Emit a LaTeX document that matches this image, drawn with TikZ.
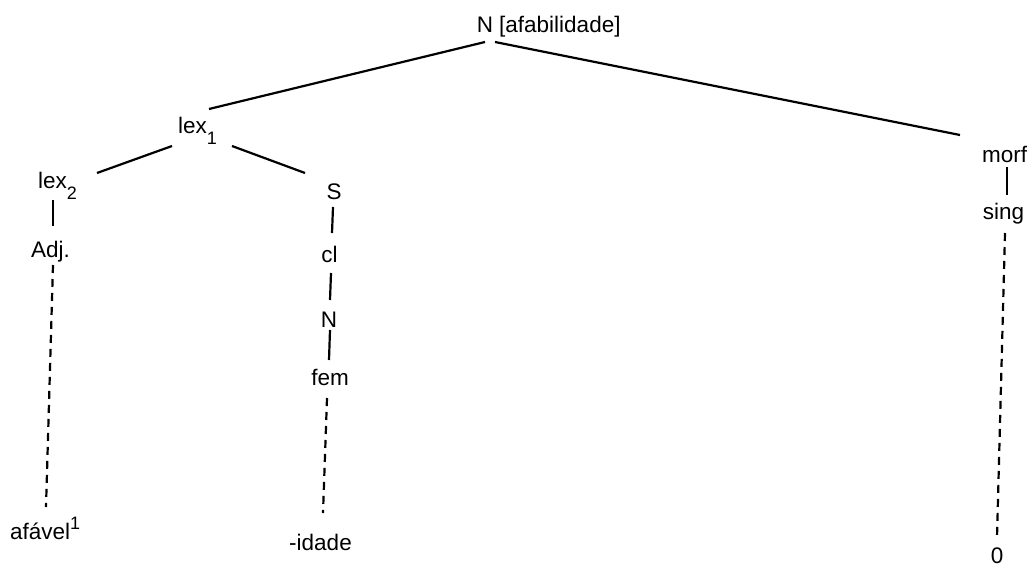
\documentclass[tikz,border=0pt]{standalone}
\usepackage{fontspec}
\setmainfont{Liberation Sans}
\newcommand{\lsub}[1]{\raisebox{-0.5em}{\fontsize{18}{18}\selectfont #1}}
\newcommand{\lsup}[1]{\raisebox{0.42em}{\fontsize{18}{18}\selectfont #1}}
\begin{document}
\begin{tikzpicture}[x=1pt,y=-1pt,
  lbl/.style={inner sep=0pt,font=\fontsize{22.5}{26}\selectfont},
  edge/.style={line width=2.2pt},
  dedge/.style={line width=2.2pt,dash pattern=on 8pt off 6pt}]
\useasboundingbox (0,0) rectangle (1035,586);
% nodes
\node[lbl,anchor=base] (root) at (485,33) {N};
\node[lbl,anchor=base west] (rootann) at (499,33) {[afabilidade]};
\node[lbl,anchor=base west] (lexone) at (178,133) {lex\lsub{1}};
\node[lbl,anchor=base west] (lextwo) at (38,188) {lex\lsub{2}};
\node[lbl,anchor=base west] (adj) at (31,257) {Adj.};
\node[lbl,anchor=base west] (afavel) at (10,539) {afável\lsup{1}};
\node[lbl,anchor=base] (S) at (334,199) {S};
\node[lbl,anchor=base] (cl) at (329.5,262) {cl};
\node[lbl,anchor=base] (Ntwo) at (329,327) {N};
\node[lbl,anchor=base] (fem) at (330,385) {fem};
\node[lbl,anchor=base] (idade) at (320.5,550) {-idade};
\node[lbl,anchor=base] (morf) at (1004.5,162) {morf};
\node[lbl,anchor=base] (sing) at (1003.5,219) {sing};
\node[lbl,anchor=base] (zero) at (997,563) {0};
% connectors
\draw[edge] ([shift={(0,9)}]root.base) -- ([shift={(31,-24)}]lexone.base west);
\draw[edge] ([shift={(10,9)}]root.base) -- ([shift={(-44.5,-27)}]morf.base);
\draw[edge] ([shift={(-6,13)}]lexone.base west) -- ([shift={(59,-15)}]lextwo.base west);
\draw[edge] ([shift={(54,13)}]lexone.base west) -- ([shift={(-29,-26)}]S.base);
\draw[edge] ([shift={(15,12)}]lextwo.base west) -- ([shift={(22,-31)}]adj.base west);
\draw[dedge] ([shift={(22,8)}]adj.base west) -- ([shift={(36,-32)}]afavel.base west);
\draw[edge] ([shift={(-1,8)}]S.base) -- ([shift={(2.5,-29)}]cl.base);
\draw[edge] ([shift={(1.5,11)}]cl.base) -- ([shift={(1,-27)}]Ntwo.base);
\draw[edge] ([shift={(1,3)}]Ntwo.base) -- ([shift={(-1,-25)}]fem.base);
\draw[dedge] ([shift={(-3,13)}]fem.base) -- ([shift={(2.5,-37)}]idade.base);
\draw[edge] ([shift={(2.5,5)}]morf.base) -- ([shift={(3.5,-24)}]sing.base);
\draw[dedge] ([shift={(1.5,14)}]sing.base) -- ([shift={(0,-26)}]zero.base);
\end{tikzpicture}
\end{document}
